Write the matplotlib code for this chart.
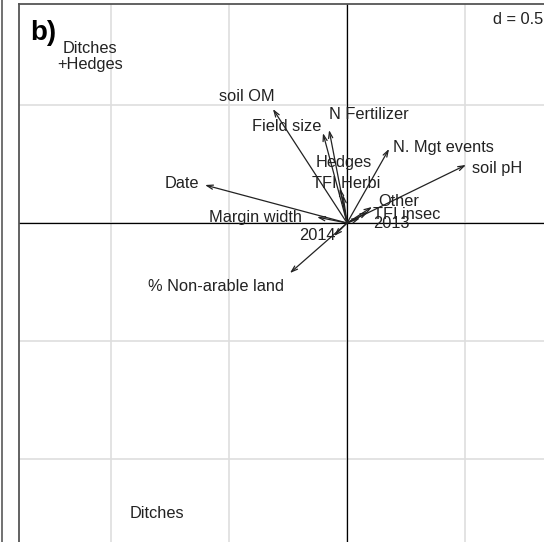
import numpy as np
import matplotlib
matplotlib.use("Agg")
import matplotlib.pyplot as plt
from matplotlib.lines import Line2D

plt.rcParams['font.family'] = ['Liberation Sans', 'DejaVu Sans']

# variable arrows (ordination scores)
labels = ["soil OM", "Field size", "N Fertilizer", "Hedges", "TFI Herbi",
          "N. Mgt events", "soil pH", "Date", "Margin width", "2014",
          "% Non-arable land", "Other", "TFI insec", "2013"]
arrow_x = [-0.314, -0.102, -0.076, -0.030, -0.017, 0.178, 0.504, -0.602,
           -0.127, -0.055, -0.242, 0.106, 0.089, 0.055]
arrow_y = [0.483, 0.381, 0.394, 0.148, 0.119, 0.314, 0.246, 0.161,
           0.025, -0.055, -0.212, 0.068, 0.047, 0.021]
label_x = [-0.424, -0.254, 0.093, -0.013, -0.004, 0.407, 0.636, -0.699,
           -0.386, -0.127, -0.555, 0.220, 0.254, 0.186]
label_y = [0.534, 0.407, 0.458, 0.258, 0.169, 0.322, 0.229, 0.169,
           0.025, -0.051, -0.267, 0.093, 0.038, -0.004]

# group labels
group_labels = ["Ditches\n+Hedges", "Ditches"]
group_x = [-1.089, -0.805]
group_y = [0.704, -1.229]

grid_step = 0.5

W, H = 544, 542
fig = plt.figure(figsize=(W / 100, H / 100), dpi=100)

xlim = (-1.39, 1.0)
ylim = (-1.45, 0.928)
scale = 236.0
left_px, top_px = 19, 4
w_px = (xlim[1] - xlim[0]) * scale
h_px = (ylim[1] - ylim[0]) * scale
ax = fig.add_axes([left_px / W, 1 - (top_px + h_px) / H, w_px / W, h_px / H])

ax.set_xticks(np.arange(-1.5, 1.01, grid_step))
ax.set_yticks(np.arange(-1.5, 1.01, grid_step))
ax.set_xlim(*xlim)
ax.set_ylim(*ylim)
ax.grid(True, color='#dedede', linewidth=1.2)
ax.tick_params(length=0, labelbottom=False, labelleft=False)
ax.set_axisbelow(True)
for s in ['left', 'top']:
    ax.spines[s].set_color('#555555')
    ax.spines[s].set_linewidth(1.3)
for s in ['right', 'bottom']:
    ax.spines[s].set_visible(False)

ax.axhline(0, color='black', linewidth=0.9, zorder=2)
ax.axvline(0, color='black', linewidth=0.9, zorder=2)

fs = 11.8
for lab, ax_, ay_, lx, ly in zip(labels, arrow_x, arrow_y, label_x, label_y):
    ax.annotate("", xy=(ax_, ay_), xytext=(0, 0),
                arrowprops=dict(arrowstyle='->,head_length=0.45,head_width=0.15',
                                color='#222222', lw=0.9, shrinkA=0, shrinkB=0),
                zorder=3)
    ax.text(lx, ly, lab, ha='center', va='center', fontsize=fs,
            color='#222222', zorder=4)

for lab, gx, gy in zip(group_labels, group_x, group_y):
    ax.text(gx, gy, lab, ha='center', va='center', fontsize=fs,
            color='#222222', linespacing=1.1, zorder=4)

fig.text(30 / W, 1 - 33 / H, "b)", fontsize=20, fontweight='bold',
         ha='left', va='center', color='black')
fig.text(543 / W, 1 - 19 / H, "d = 0.5", fontsize=fs, ha='right',
         va='center', color='#222222')

fig.add_artist(Line2D([1.5 / W, 1.5 / W], [0, 1], color='#666666',
                      linewidth=1.3, transform=fig.transFigure))

fig.savefig("out.png", dpi=100)
